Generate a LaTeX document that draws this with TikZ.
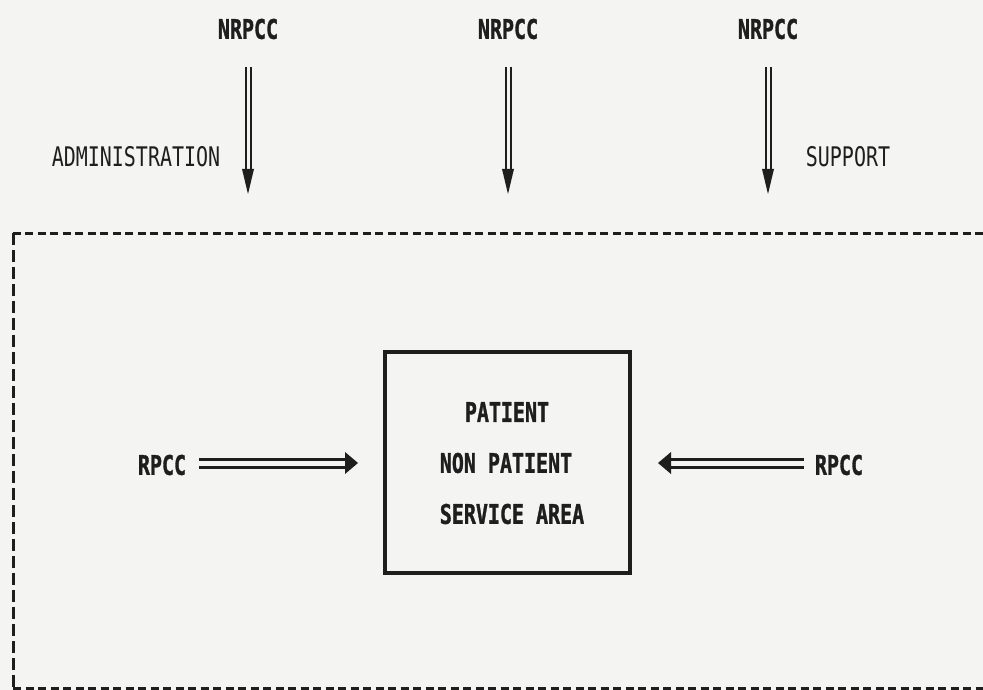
\documentclass[tikz,border=0pt]{standalone}
\usepackage{fontspec}
\newfontfamily\dmfont[FakeStretch=0.74]{DejaVu Sans Mono}
\newfontfamily\dmbold[FakeStretch=0.74,FakeBold=1.2]{DejaVu Sans Mono Bold}
\usetikzlibrary{calc}
\definecolor{ink}{HTML}{1E1E1E}
\definecolor{paper}{HTML}{F4F4F2}
\tikzset{
  lbl/.style={inner sep=0pt, text=ink, font=\dmbold\fontsize{27}{27}\selectfont},
  lbllight/.style={inner sep=0pt, text=ink, font=\dmfont\fontsize{27}{27}\selectfont},
  dblv/.style={draw=ink, line width=2pt, double=paper, double distance=3pt, shorten >=18pt},
  dblh/.style={draw=ink, line width=3pt, double=paper, double distance=5pt, shorten >=9pt},
  dashh/.style={draw=ink, line width=3pt, dash pattern=on 8pt off 4.5pt},
  dashv/.style={draw=ink, line width=3pt, dash pattern=on 12pt off 5pt},
  areabox/.style={draw=ink, line width=4pt, minimum width=245pt, minimum height=221pt, inner sep=0pt}
}
\begin{document}
\begin{tikzpicture}[x=1pt,y=-1pt]
\fill[paper] (0,0) rectangle (983,690);
\useasboundingbox (0,0) rectangle (983,690);

% top labels
\node[lbl] (n1) at (248,29) {NRPCC};
\node[lbl] (n2) at (508,29) {NRPCC};
\node[lbl] (n3) at (768,29) {NRPCC};
\node[lbllight] (adm) at (136,157) {ADMINISTRATION};
\node[lbllight] (sup) at (848,157) {SUPPORT};

% vertical arrows
\coordinate (s1) at (248,67);  \coordinate (e1) at (248,194);
\coordinate (s2) at (508,67);  \coordinate (e2) at (508,194);
\coordinate (s3) at (768,67);  \coordinate (e3) at (768,194);
\foreach \s/\e in {s1/e1,s2/e2,s3/e3}{
  \draw[dblv] (\s) -- (\e);
  \fill[ink] (\e) -- ++(-6,-25) -- ++(12,0) -- cycle;
}

% dashed frame (open on the right)
\draw[dashh] (983,233) -- (13,233);
\draw[dashv] (13,233) -- (13,688);
\draw[dashh] (13,688) -- (983,688);

% central box
\node[areabox] (box) at (507.5,462.5) {};
\node[lbl] (t1) at (507,412) {PATIENT};
\node[lbl] (t2) at (506,463) {NON PATIENT};
\node[lbl] (t3) at (512,514) {SERVICE AREA};

% side labels and arrows
\node[lbl] (r1) at (162,465) {RPCC};
\node[lbl] (r2) at (839,465) {RPCC};
\coordinate (hl) at (358,463);
\coordinate (hr) at (658,463);
\draw[dblh] (r1.east) ++(13,-2) coordinate (hls) -- (hl);
\fill[ink] (hl) -- ++(-13,-11) -- ++(0,22) -- cycle;
\draw[dblh] (r2.west) ++(-11,-2) coordinate (hrs) -- (hr);
\fill[ink] (hr) -- ++(13,-11) -- ++(0,22) -- cycle;
\end{tikzpicture}
\end{document}
